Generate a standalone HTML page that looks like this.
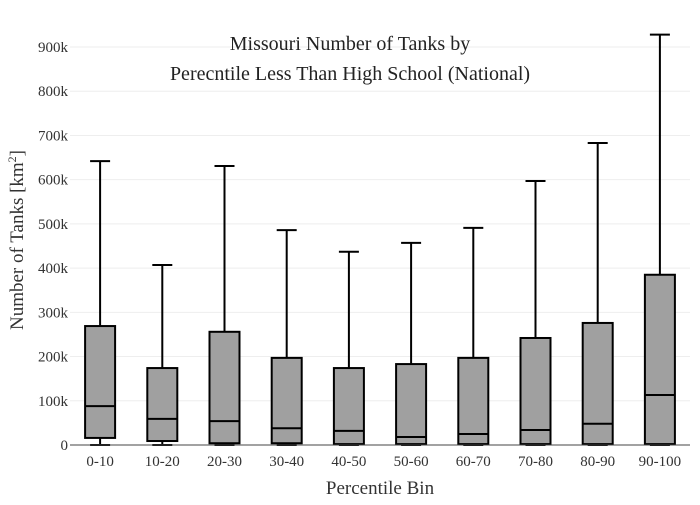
<!DOCTYPE html>
<html><head><meta charset="utf-8"><style>
body{margin:0;background:#fff;}
svg text{font-family:"Liberation Serif",serif;fill:#333;}
</style></head><body>
<svg id="chart" width="700" height="500" viewBox="0 0 700 500" xmlns="http://www.w3.org/2000/svg">
<rect width="700" height="500" fill="#fff"/>
<g id="grid"></g>
<g id="yticks"></g>
<g id="xticks"></g>
<g id="boxes"></g>
<line x1="70" x2="690" y1="445" y2="445" stroke="#444" stroke-width="1"/>
<text x="350" y="50" text-anchor="middle" font-size="20" style="fill:#222">Missouri Number of Tanks by</text>
<text x="350" y="80" text-anchor="middle" font-size="20" style="fill:#222">Perecntile Less Than High School (National)</text>
<text x="380" y="494" text-anchor="middle" font-size="19">Percentile Bin</text>
<text transform="translate(23,240) rotate(-90)" text-anchor="middle" font-size="19">Number of Tanks  [km<tspan baseline-shift="super" font-size="12">2</tspan>]</text>
</svg>
<script>
const categories=["0-10","10-20","20-30","30-40","40-50","50-60","60-70","70-80","80-90","90-100"];
const lowerV=[0,0,0,0,0,0,0,0,0,0];
const q1V=[16,9,4,4,2,2,2,2,2,2];
const medV=[88,59,54,38,32,18,25,34,48,113];
const q3V=[269,174,256,197,174,183,197,242,276,385];
const upperV=[642,407,631,486,437,457,491,597,683,928];
const yTicks=[0,100,200,300,400,500,600,700,800,900];
const yTickLabels=["0","100k","200k","300k","400k","500k","600k","700k","800k","900k"];
const NS="http://www.w3.org/2000/svg";
const x0=69,x1=691,step=(x1-x0)/categories.length;
const xs=i=>x0+step*(i+0.5);
const ys=v=>445-v*0.4422;
function mk(t,a,p){const e=document.createElementNS(NS,t);for(const k in a)e.setAttribute(k,a[k]);p.appendChild(e);return e;}
const grid=document.getElementById('grid'),yt=document.getElementById('yticks'),xt=document.getElementById('xticks'),bx=document.getElementById('boxes');
yTicks.forEach((v,i)=>{
 if(v>0){const l=mk('line',{x1:70,x2:690,y1:ys(v),y2:ys(v),stroke:'#eee','stroke-width':1},grid);
 
 }
 const t=mk('text',{x:68,y:ys(v)+5,'text-anchor':'end','font-size':15},yt);
 t.textContent=yTickLabels[i];
 
 
});
categories.forEach((c,i)=>{
 const cx=xs(i),w=30,cw=20;
 const t=mk('text',{x:cx,y:466,'text-anchor':'middle','font-size':15},xt);
 t.textContent=c;
 
 
 const g=mk('g',{},bx);
 
 
 const st={stroke:'#000','stroke-width':2};
 mk('line',Object.assign({x1:cx,x2:cx,y1:ys(upperV[i]),y2:ys(q3V[i])},st),g);
 mk('line',Object.assign({x1:cx,x2:cx,y1:ys(q1V[i]),y2:ys(lowerV[i])},st),g);
 mk('line',Object.assign({x1:cx-cw/2,x2:cx+cw/2,y1:ys(upperV[i]),y2:ys(upperV[i])},st),g);
 mk('line',Object.assign({x1:cx-cw/2,x2:cx+cw/2,y1:ys(lowerV[i]),y2:ys(lowerV[i])},st),g);
 mk('rect',Object.assign({x:cx-w/2,y:ys(q3V[i]),width:w,height:ys(q1V[i])-ys(q3V[i]),fill:'#a0a0a0'},st),g);
 mk('line',Object.assign({x1:cx-w/2,x2:cx+w/2,y1:ys(medV[i]),y2:ys(medV[i])},st),g);
});
</script>
</body></html>
